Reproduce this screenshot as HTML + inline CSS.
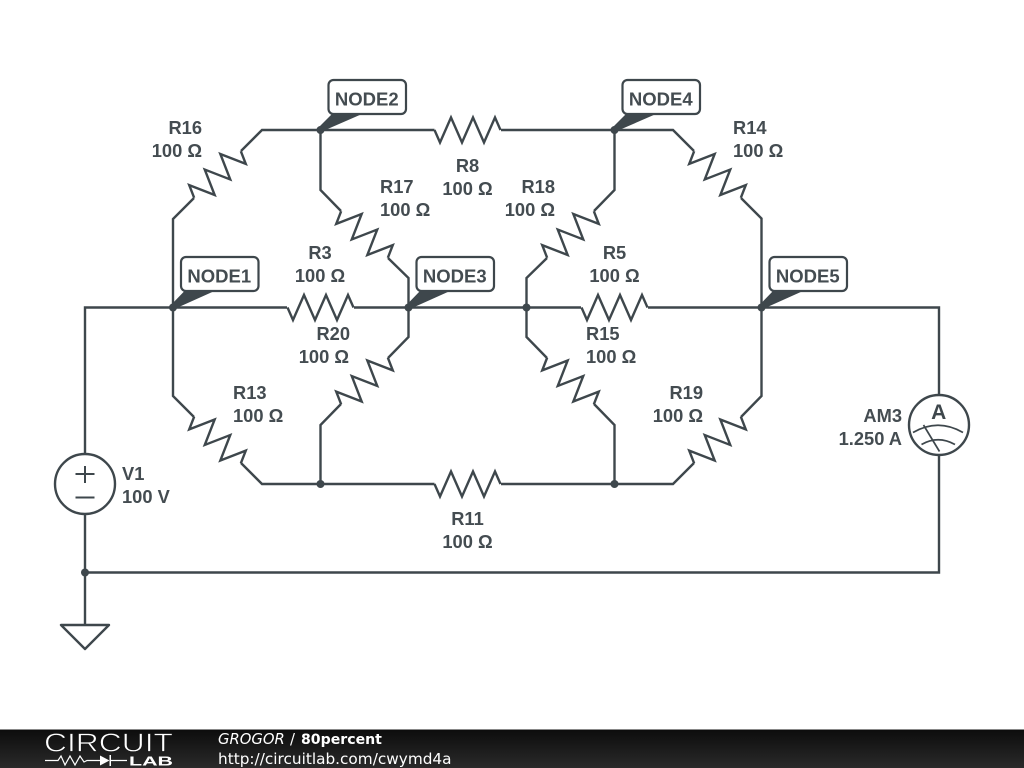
<!DOCTYPE html>
<html>
<head>
<meta charset="utf-8">
<style>
html,body{margin:0;padding:0;background:#fff;width:1024px;height:768px;overflow:hidden}
svg{display:block}
.w{fill:none;stroke:#3e474c;stroke-width:2.400}
.t{font-family:"Liberation Sans",sans-serif;font-size:18.300px;font-weight:bold;fill:#444c51}
.e{text-anchor:end}
.m{text-anchor:middle}
.n{font-family:"Liberation Sans",sans-serif;font-size:18.500px;font-weight:bold;fill:#444c51;text-anchor:middle}
.box{fill:#fff;stroke:#3e474c;stroke-width:2.200}
.f{fill:#3e474c}
.d{font-family:"DejaVu Sans",sans-serif;font-size:14.800px;fill:#fff}
</style>
</head>
<body>
<svg width="1024" height="768" viewBox="0 0 1024 768" xmlns="http://www.w3.org/2000/svg">
<defs>
<path id="r" d="M-33 0L-27.500 12.500L-16.500 -12.500L-5.500 12.500L5.500 -12.500L16.500 12.500L27.500 -12.500L33 0" class="w" stroke-linejoin="miter"/>
<linearGradient id="g" x1="0" y1="0" x2="0" y2="1"><stop offset="0" stop-color="#0c0c0c"/><stop offset="1" stop-color="#2a2a2a"/></linearGradient>
</defs>

<!-- wires -->
<path class="w" d="M85 454V307.500H287M354 307.500H581M648 307.500H939V395M939 455V572.500H85M85 514V625"/>
<path class="w" d="M173 307.500V219L194 198M241 151L262 130H434.500M501 130H673L694 151M741 198L761.500 218.500V396L741 417M694 463L673 484H501M434.500 484H262L241 463M194 417L173 396V307.500"/>
<path class="w" d="M320.500 130V190L341 211M388 258L408.500 278V337L388 358M341 404L320.500 425V484"/>
<path class="w" d="M614.500 130V190L594 211M547 258L526.500 278V337L547 358M594 404L614.500 425V484"/>

<!-- horizontal resistors -->
<use href="#r" transform="translate(320.500 307.500)"/>
<use href="#r" transform="translate(614.500 307.500)"/>
<use href="#r" transform="translate(467.500 130)"/>
<use href="#r" transform="translate(467.500 484)"/>

<!-- diagonal resistors -->
<use href="#r" transform="translate(217.500 174.500) rotate(-45) scale(1 -1)"/>
<use href="#r" transform="translate(364.500 234.500) rotate(45)"/>
<use href="#r" transform="translate(570.500 234.500) rotate(-45) scale(1 -1)"/>
<use href="#r" transform="translate(717.500 174.500) rotate(45)"/>
<use href="#r" transform="translate(217.500 440) rotate(45)"/>
<use href="#r" transform="translate(364.500 381) rotate(-45) scale(1 -1)"/>
<use href="#r" transform="translate(570.500 381) rotate(45)"/>
<use href="#r" transform="translate(717.500 440) rotate(-45) scale(1 -1)"/>

<!-- junctions -->
<g class="f">
<circle cx="173" cy="307.500" r="4"/><circle cx="320.500" cy="130" r="4"/>
<circle cx="408.500" cy="307.500" r="4"/><circle cx="526.500" cy="307.500" r="4"/>
<circle cx="614.500" cy="130" r="4"/><circle cx="761.500" cy="307.500" r="4"/>
<circle cx="320.500" cy="484" r="4"/><circle cx="614.500" cy="484" r="4"/>
<circle cx="85" cy="572.500" r="4"/>
</g>

<!-- node boxes -->
<g>
<rect class="box" x="181" y="257" width="77.500" height="34" rx="5"/><text class="n" x="219.300" y="282.500">NODE1</text>
<rect class="box" x="328.500" y="80" width="77.500" height="34" rx="5"/><text class="n" x="366.800" y="105.500">NODE2</text>
<rect class="box" x="416.500" y="257" width="77.500" height="34" rx="5"/><text class="n" x="454.800" y="282.500">NODE3</text>
<rect class="box" x="622.500" y="80" width="77.500" height="34" rx="5"/><text class="n" x="660.800" y="105.500">NODE4</text>
<rect class="box" x="769.500" y="257" width="77.500" height="34" rx="5"/><text class="n" x="807.800" y="282.500">NODE5</text>
</g>
<!-- node flags -->
<g class="f">
<polygon points="169.500,306.500 184.500,291 214.500,291 175.500,308.500"/>
<polygon points="317,129 332,114 362,114 323,131"/>
<polygon points="405,306.500 420,291 450,291 411,308.500"/>
<polygon points="611,129 626,114 656,114 617,131"/>
<polygon points="758,306.500 773,291 803,291 764,308.500"/>
</g>

<!-- voltage source -->
<circle class="w" cx="85" cy="484" r="30"/>
<path class="w" style="stroke-width:2" d="M75.500 474H94.500M85 466V483M75.500 497.500H94.500"/>

<!-- ground -->
<path class="w" d="M61 625H109L85 649Z" stroke-linejoin="round"/>

<!-- ammeter -->
<circle class="w" cx="939" cy="425" r="30"/>
<path class="w" style="stroke-width:1.700" d="M913 432.500Q938 418 963 432.500M921.500 444.500Q938 435 955 444.500M923.500 425L939.500 451.500"/>
<text x="938.700" y="419" text-anchor="middle" style="font-family:'Liberation Sans',sans-serif;font-weight:bold;font-size:21px;fill:#3e474c">A</text>

<!-- labels -->
<text class="t e" x="202" y="134">R16</text><text class="t e" x="202" y="157">100 Ω</text>
<text class="t m" x="467.500" y="172">R8</text><text class="t m" x="467.500" y="195">100 Ω</text>
<text class="t" x="380" y="193">R17</text><text class="t" x="380" y="216">100 Ω</text>
<text class="t e" x="555" y="193">R18</text><text class="t e" x="555" y="216">100 Ω</text>
<text class="t" x="733" y="134">R14</text><text class="t" x="733" y="157">100 Ω</text>
<text class="t m" x="320" y="259">R3</text><text class="t m" x="320" y="282">100 Ω</text>
<text class="t m" x="614.500" y="259">R5</text><text class="t m" x="614.500" y="282">100 Ω</text>
<text class="t e" x="350" y="340">R20</text><text class="t e" x="349" y="363">100 Ω</text>
<text class="t" x="586" y="340">R15</text><text class="t" x="586" y="363">100 Ω</text>
<text class="t" x="233" y="399">R13</text><text class="t" x="233" y="422">100 Ω</text>
<text class="t e" x="703" y="399">R19</text><text class="t e" x="703" y="422">100 Ω</text>
<text class="t m" x="467.500" y="525">R11</text><text class="t m" x="467.500" y="548">100 Ω</text>
<text class="t" x="122" y="480">V1</text><text class="t" x="122" y="503">100 V</text>
<text class="t e" x="902" y="422">AM3</text><text class="t e" x="902" y="445">1.250 A</text>

<!-- footer -->
<rect x="0" y="729" width="1024" height="39" fill="url(#g)"/>
<rect x="0" y="729" width="1024" height="1" fill="#888"/>
<text x="44" y="751.500" textLength="129" lengthAdjust="spacingAndGlyphs" style="font-family:'Liberation Sans',sans-serif;font-size:25.500px;fill:#fff;stroke:#161616;stroke-width:0.700">CIRCUIT</text>
<path d="M45 760.500H58L61 756L65 765L70 756L75 765L80 756L84 762L87 760.500H100M111 760.500H127" fill="none" stroke="#fff" stroke-width="1.200"/>
<polygon points="100,755.500 100,765.500 109.500,760.500" fill="#fff"/>
<rect x="109.500" y="755" width="1.500" height="11" fill="#fff"/>
<text x="129" y="765.300" textLength="44" lengthAdjust="spacingAndGlyphs" style="font-family:'Liberation Sans',sans-serif;font-size:13px;font-weight:bold;fill:#fff">LAB</text>
<text class="d" x="218" y="744" font-style="italic">GROGOR</text>
<text class="d" x="290" y="744">/</text>
<text class="d" x="301" y="744" font-weight="bold" style="font-size:14.100px">80percent</text>
<text class="d" x="218" y="764" style="font-size:15.300px">http://circuitlab.com/cwymd4a</text>
</svg>
</body>
</html>
